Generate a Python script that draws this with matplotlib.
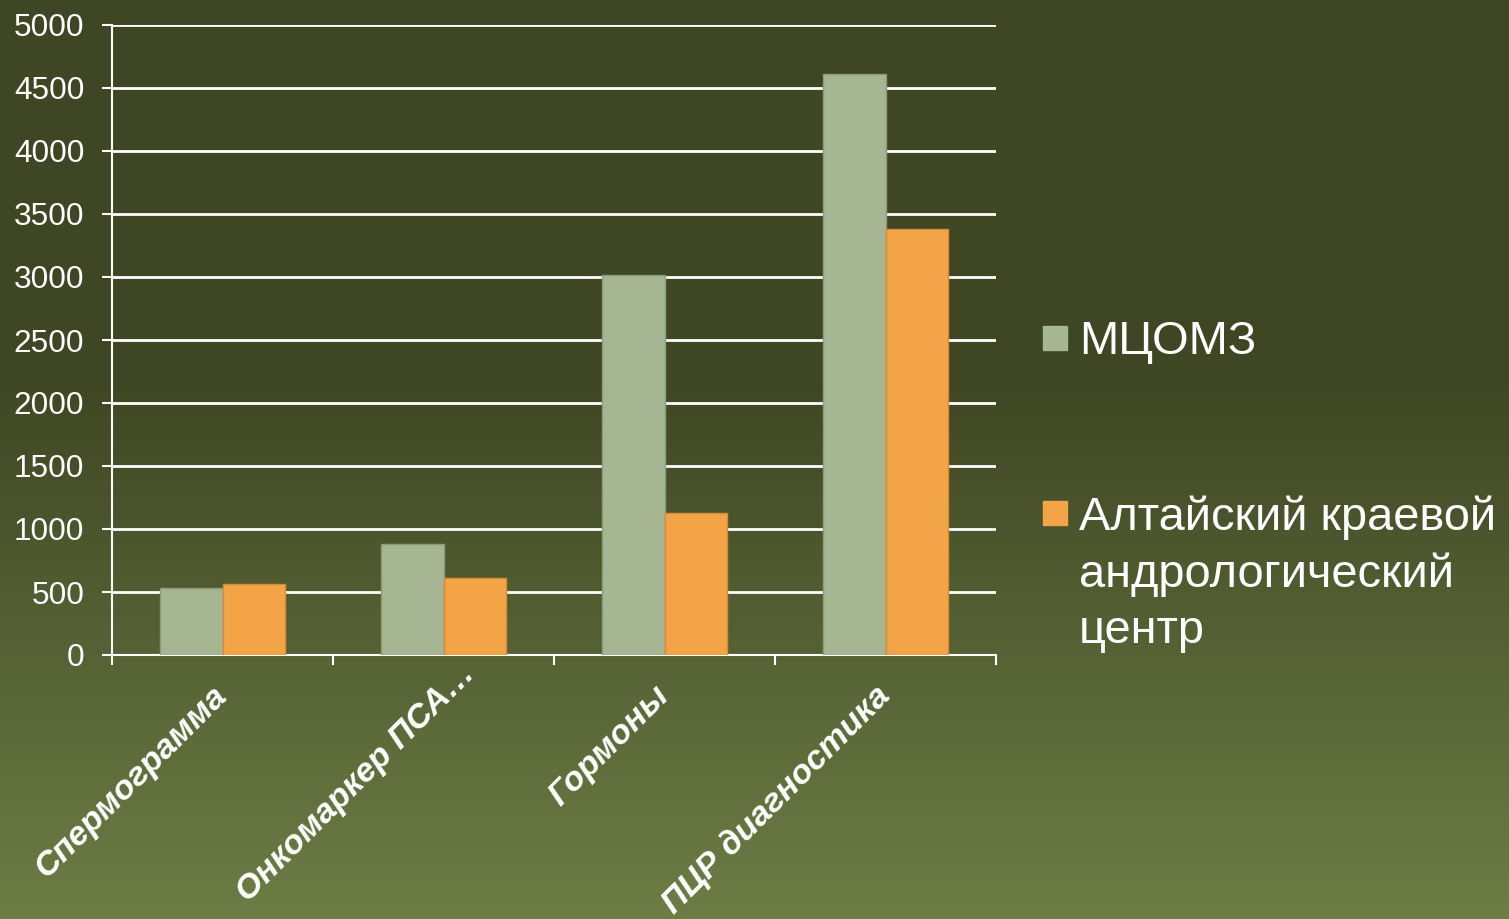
import matplotlib

matplotlib.use("Agg")

import matplotlib.pyplot as plt
import matplotlib.transforms as mtransforms
import numpy as np
from matplotlib.colors import LinearSegmentedColormap
from matplotlib.patches import Rectangle

categories = ["Спермограмма", "Онкомаркер ПСА…", "Гормоны", "ПЦР диагностика"]
series_names = ["МЦОМЗ", "Алтайский краевой\nандрологический\nцентр"]
mcomz = [535, 880, 3015, 4610]
altai = [565, 610, 1125, 3380]
y_ticks = [0, 500, 1000, 1500, 2000, 2500, 3000, 3500, 4000, 4500, 5000]

colors = ["#a6b592", "#f2a446"]
edges = ["#8c9c78", "#d98c35"]

plt.rcParams["font.family"] = ["Liberation Sans", "DejaVu Sans"]

W, H = 1509, 919
fig = plt.figure(figsize=(W / 100, H / 100), dpi=100)

# background gradient
bg = fig.add_axes([0, 0, 1, 1], zorder=-10)
cmap = LinearSegmentedColormap.from_list(
    "bg", [(0.0, "#3f4623"), (0.42, "#404724"), (1.0, "#6c7d45")]
)
bg.imshow(np.linspace(0, 1, 256).reshape(-1, 1), aspect="auto", cmap=cmap,
          extent=[0, 1, 1, 0])
bg.axis("off")

ax = fig.add_axes([112 / W, 1 - 655 / H, (996 - 112) / W, (655 - 25) / H])
ax.set_facecolor("none")

x = np.arange(len(categories))
width = 0.285
ax.bar(x - width / 2, mcomz, width, color=colors[0], edgecolor=edges[0],
       linewidth=1, zorder=3)
ax.bar(x + width / 2, altai, width, color=colors[1], edgecolor=edges[1],
       linewidth=1, zorder=3)

ax.set_xlim(-0.5, len(categories) - 0.5)
ax.set_ylim(0, 5000)
ax.set_yticks(y_ticks)
ax.grid(axis="y", color="white", linewidth=2, zorder=1)
ax.set_axisbelow(True)

ax.set_xticks(np.arange(len(categories) + 1) - 0.5)
ax.set_xticklabels([])
ax.set_xticks(x, minor=True)
labels = ax.set_xticklabels(categories, minor=True, rotation=45, ha="right",
                            va="center", rotation_mode="anchor", fontsize=24.5,
                            fontweight="bold", fontstyle="italic", color="white")
ax.tick_params(axis="x", which="major", length=7, width=1.5, color="white")
ax.tick_params(axis="x", which="minor", length=0, pad=26)
ax.tick_params(axis="y", length=7, width=1.5, color="white", pad=13,
               labelsize=22.8, labelcolor="white")

# the truncated label sits a little further along its slant in the original
shift = mtransforms.ScaledTranslation(0.27, 0.22, fig.dpi_scale_trans)
labels[1].set_transform(labels[1].get_transform() + shift)

for side in ["top", "right"]:
    ax.spines[side].set_visible(False)
for side in ["left", "bottom"]:
    ax.spines[side].set_color("white")
    ax.spines[side].set_linewidth(1.5)

# legend
legend_rows = [338, 513]
for name, color, yc in zip(series_names, colors, legend_rows):
    fig.add_artist(Rectangle((1043 / W, 1 - (yc + 12) / H), 24 / W, 24 / H,
                             transform=fig.transFigure, color=color))
    fig.text(1079 / W, 1 - (yc - 18) / H, name, fontsize=33.8, color="white",
             va="top", ha="left", linespacing=1.37)

fig.savefig("out.png", dpi=100)
